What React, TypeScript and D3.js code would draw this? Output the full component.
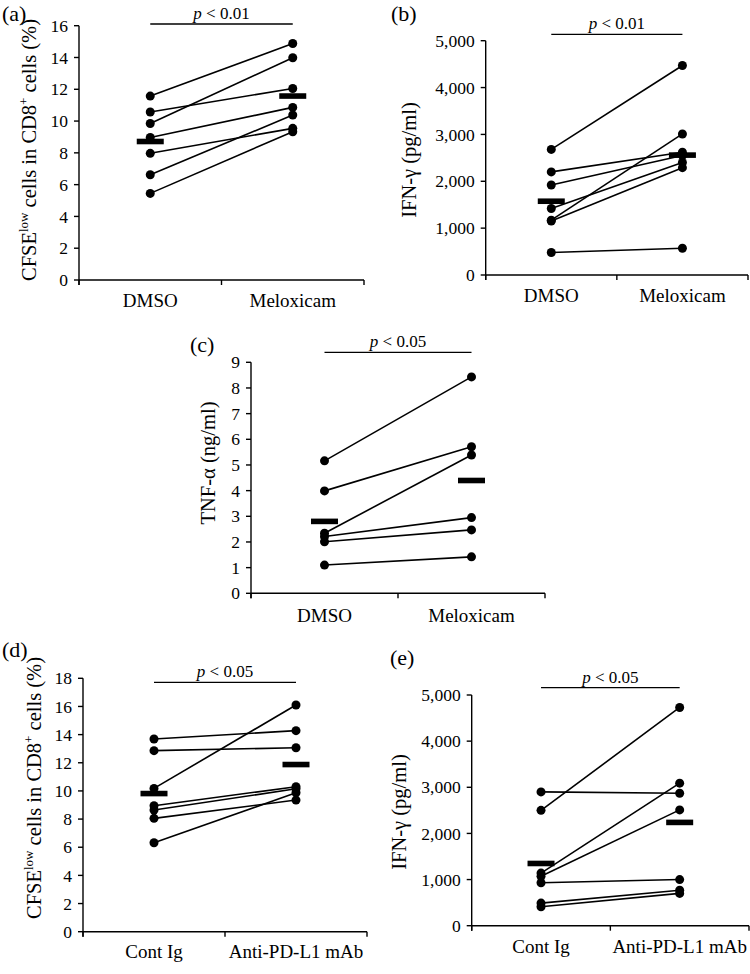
import React from "react";
import * as d3 from "d3";

// ---------- data ----------
const meloxCats = ["DMSO", "Meloxicam"];
const pdl1Cats = ["Cont Ig", "Anti-PD-L1 mAb"];

// (a) CFSE-low % in CD8+ (paired)
const aDMSO = [11.57, 10.57, 9.85, 8.97, 7.97, 6.62, 5.45];
const aMelox = [14.88, 12.05, 13.98, 10.86, 9.54, 10.38, 9.33];
const aTicks = [0, 2, 4, 6, 8, 10, 12, 14, 16];

// (b) IFN-γ pg/ml
const bDMSO = [2680, 2200, 1920, 1420, 1170, 1150, 480];
const bMelox = [4470, 2620, 2550, 2400, 3010, 2290, 570];
const bTicks = [0, 1000, 2000, 3000, 4000, 5000];

// (c) TNF-α ng/ml
const cDMSO = [5.16, 3.99, 2.34, 2.21, 2.01, 1.1];
const cMelox = [8.43, 5.71, 5.39, 2.95, 2.47, 1.42];
const cTicks = [0, 1, 2, 3, 4, 5, 6, 7, 8, 9];

// (d) CFSE-low % in CD8+ (PD-L1)
const dCont = [13.69, 12.86, 10.18, 8.95, 8.64, 8.05, 6.32];
const dAnti = [14.28, 13.07, 16.1, 10.3, 10.15, 9.35, 9.87];
const dTicks = [0, 2, 4, 6, 8, 10, 12, 14, 16, 18];

// (e) IFN-γ pg/ml (PD-L1)
const eCont = [2900, 2500, 1140, 1070, 930, 490, 410];
const eAnti = [2870, 4730, 3090, 2510, 1000, 770, 700];
const eTicks = [0, 1000, 2000, 3000, 4000, 5000];

const pLabels = ["< 0.01", "< 0.01", "< 0.05", "< 0.05", "< 0.05"];

// ---------- drawing ----------
const FONT = "'Liberation Serif', 'Times New Roman', serif";

type PanelProps = {
  letter: string;
  letterX: number;
  letterY: number;
  cats: string[];
  left: number[];
  right: number[];
  ticks: number[];
  fmt: (v: number) => string;
  x0: number;
  x1: number;
  yb: number;
  yt: number;
  sigY: number;
  pText: string;
  ylab: React.ReactNode;
  ylabX: number;
  ylabY: number;
  xlabY: number;
};

function Panel(p: PanelProps) {
  const max = p.ticks[p.ticks.length - 1];
  const y = d3.scaleLinear().domain([0, max]).range([p.yb, p.yt]);
  const x = d3.scaleBand<string>().domain(p.cats).range([p.x0, p.x1]);
  const cx = (c: string) => (x(c) as number) + x.bandwidth() / 2;
  const lx = cx(p.cats[0]);
  const rx = cx(p.cats[1]);
  const means = [d3.mean(p.left) as number, d3.mean(p.right) as number];
  const xTicks = [p.x0, p.x0 + x.bandwidth(), p.x1];
  const mid = (p.x0 + p.x1) / 2;
  return (
    <g fontFamily={FONT} fill="#000">
      <text x={p.letterX} y={p.letterY} fontSize={22}>
        ({p.letter})
      </text>
      {/* y axis */}
      <line x1={p.x0} x2={p.x0} y1={p.yb + 5} y2={p.yt} stroke="#000" strokeWidth={1.4} />
      {p.ticks.map((t) => (
        <g key={t}>
          <line x1={p.x0 - 5} x2={p.x0} y1={y(t)} y2={y(t)} stroke="#000" strokeWidth={1.4} />
          <text x={p.x0 - 11} y={y(t)} dy="0.35em" textAnchor="end" fontSize={17.5}>
            {p.fmt(t)}
          </text>
        </g>
      ))}
      {/* x axis */}
      <line x1={p.x0} x2={p.x1} y1={p.yb} y2={p.yb} stroke="#000" strokeWidth={1.4} />
      {xTicks.map((t, i) => (
        <line key={i} x1={t} x2={t} y1={p.yb} y2={p.yb + 5} stroke="#000" strokeWidth={1.4} />
      ))}
      {p.cats.map((c) => (
        <text key={c} x={cx(c)} y={p.xlabY} textAnchor="middle" fontSize={19}>
          {c}
        </text>
      ))}
      {/* y label */}
      <text
        transform={`translate(${p.ylabX},${p.ylabY}) rotate(-90)`}
        textAnchor="middle"
        fontSize={20.5}
      >
        {p.ylab}
      </text>
      {/* paired lines */}
      {p.left.map((v, i) => (
        <line key={i} x1={lx} y1={y(v)} x2={rx} y2={y(p.right[i])} stroke="#000" strokeWidth={1.6} />
      ))}
      {p.left.map((v, i) => (
        <circle key={"l" + i} cx={lx} cy={y(v)} r={4.5} fill="#000" />
      ))}
      {p.right.map((v, i) => (
        <circle key={"r" + i} cx={rx} cy={y(v)} r={4.5} fill="#000" />
      ))}
      {/* means */}
      {[lx, rx].map((xx, i) => (
        <rect key={"m" + i} x={xx - 13.5} y={y(means[i]) - 2.8} width={27} height={5.6} fill="#000" />
      ))}
      {/* significance */}
      <line x1={lx} x2={rx} y1={p.sigY} y2={p.sigY} stroke="#000" strokeWidth={1.3} />
      <text x={mid} y={p.sigY - 5} textAnchor="middle" fontSize={17}>
        <tspan fontStyle="italic">p</tspan> {p.pText}
      </text>
    </g>
  );
}

const cfseLabel = (
  <>
    CFSE
    <tspan fontSize={13} dy={-8}>low</tspan>
    <tspan dy={8}> cells in CD8</tspan>
    <tspan fontSize={13} dy={-8}>+</tspan>
    <tspan dy={8}> cells (%)</tspan>
  </>
);

const plain = (v: number) => String(v);
const comma = d3.format(",");

export default function App() {
  return (
    <svg
      width={750}
      height={974}
      style={{ position: "absolute", left: 0, top: 0, background: "#fff" }}
    >
      <rect width={750} height={974} fill="#fff" />
      <Panel
        letter="a" letterX={2} letterY={20.5}
        cats={meloxCats} left={aDMSO} right={aMelox} ticks={aTicks} fmt={plain}
        x0={79} x1={364} yb={280} yt={25.7} sigY={24} pText={pLabels[0]}
        ylab={cfseLabel} ylabX={36} ylabY={150} xlabY={307}
      />
      <Panel
        letter="b" letterX={391} letterY={20.5}
        cats={meloxCats} left={bDMSO} right={bMelox} ticks={bTicks} fmt={comma}
        x0={485.7} x1={748} yb={275} yt={40.7} sigY={34.3} pText={pLabels[1]}
        ylab={<>IFN-γ (pg/ml)</>} ylabX={416} ylabY={160} xlabY={302}
      />
      <Panel
        letter="c" letterX={190} letterY={352}
        cats={meloxCats} left={cDMSO} right={cMelox} ticks={cTicks} fmt={plain}
        x0={251} x1={545} yb={593.3} yt={362.3} sigY={352.3} pText={pLabels[2]}
        ylab={<>TNF-α (ng/ml)</>} ylabX={215} ylabY={463} xlabY={622}
      />
      <Panel
        letter="d" letterX={2} letterY={657}
        cats={pdl1Cats} left={dCont} right={dAnti} ticks={dTicks} fmt={plain}
        x0={83} x1={367} yb={931.7} yt={678.3} sigY={682.3} pText={pLabels[3]}
        ylab={cfseLabel} ylabX={41} ylabY={788} xlabY={958}
      />
      <Panel
        letter="e" letterX={390} letterY={665}
        cats={pdl1Cats} left={eCont} right={eAnti} ticks={eTicks} fmt={comma}
        x0={471.7} x1={749} yb={925.7} yt={695} sigY={687.7} pText={pLabels[4]}
        ylab={<>IFN-γ (pg/ml)</>} ylabX={406} ylabY={812} xlabY={953}
      />
    </svg>
  );
}
